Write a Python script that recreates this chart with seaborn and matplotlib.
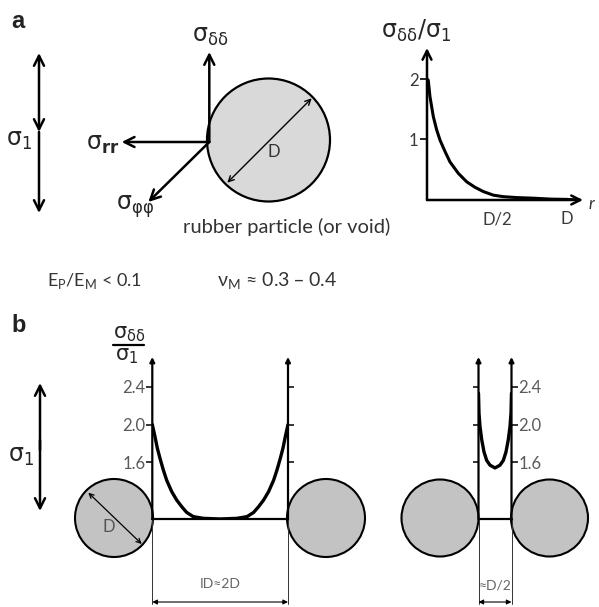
import matplotlib
matplotlib.use("Agg")
import matplotlib.pyplot as plt
import seaborn as sns
from matplotlib.patches import Circle

# ---------------- data ----------------
# panel a: sigma_dd / sigma_1 vs distance r (in units of D) from particle surface
a_r = [0.0, 0.009, 0.021, 0.045, 0.069, 0.093, 0.129, 0.164, 0.224, 0.284,
       0.343, 0.402, 0.474, 0.545, 0.641, 0.759, 0.879, 0.998, 1.09]
a_val = [2.0, 1.98, 1.71, 1.38, 1.16, 0.99, 0.80, 0.63, 0.44, 0.30,
         0.21, 0.14, 0.08, 0.055, 0.04, 0.03, 0.015, 0.01, 0.0]
a_yticks = [1, 2]
a_yticklabels = ["1", "2"]
a_xticks = [0.5, 1.0]
a_xticklabels = ["D/2", "D"]

# panel b: stress across ligament (position as fraction of ligament)
b_wide_pos = [0.0, 0.02, 0.037, 0.057, 0.081, 0.106, 0.143, 0.18, 0.217, 0.253,
              0.302, 0.376, 0.5, 0.624, 0.698, 0.747, 0.783, 0.82, 0.857,
              0.894, 0.919, 0.943, 0.963, 0.98, 1.0]
b_wide_val = [2.0, 1.87, 1.75, 1.64, 1.52, 1.41, 1.29, 1.20, 1.13, 1.07,
              1.025, 1.007, 1.0, 1.007, 1.025, 1.07, 1.13, 1.20, 1.29,
              1.41, 1.52, 1.64, 1.75, 1.87, 2.0]
b_narrow_pos = [0.0, 0.015, 0.045, 0.097, 0.167, 0.248, 0.348, 0.5,
                0.652, 0.752, 0.833, 0.903, 0.955, 0.985, 1.0]
b_narrow_val = [2.33, 2.12, 1.98, 1.84, 1.71, 1.62, 1.57, 1.54,
                1.57, 1.62, 1.71, 1.84, 1.98, 2.12, 2.33]
b_yticks = [1.6, 2.0, 2.4]
b_yticklabels = ["1.6", "2.0", "2.4"]

# ---------------- layout (pixels) ----------------
W, H = 599, 607
A_X0, A_Y0 = 427, 200          # origin of graph a
A_XMAX, A_YTOP = 583, 48
A_PX_R, A_PX_V = 140, 60.5
B_BASE, B_TOP, B_PX_V = 519, 357, 94.5
B_WIDE = (152.3, 288.0)
B_NARROW = (478.5, 511.5)

sns.set_theme(style="white")
plt.rcParams["font.family"] = ["Lato", "DejaVu Sans"]
plt.rcParams["mathtext.fontset"] = "dejavusans"

fig = plt.figure(figsize=(W / 100, H / 100), dpi=100)
ax = fig.add_axes([0, 0, 1, 1])
ax.set_xlim(0, W)
ax.set_ylim(H, 0)
ax.axis("off")


def px_axes(x0, y0, x1, y1):
    a = fig.add_axes([x0 / W, 1 - y1 / H, (x1 - x0) / W, (y1 - y0) / H])
    a.set_facecolor("none")
    for s in a.spines.values():
        s.set_visible(False)
    return a


def arrow(axx, p0, p1, style="->", lw=1.8, ms=18, color="black"):
    axx.annotate("", xy=p1, xytext=p0, xycoords="data", textcoords="data",
                 annotation_clip=False,
                 arrowprops=dict(arrowstyle=style, lw=lw, color=color,
                                 mutation_scale=ms, shrinkA=0, shrinkB=0))


SIG = r"$\mathrm{\sigma}"
DD = r"_{\mathrm{\delta\delta}}"
TXT = "#333333"
SFS = 17

# ---------------- panel a ----------------
ax.text(18, 22, "a", fontsize=17, fontweight="bold", family="Liberation Sans",
        ha="center", va="center", color="#222222")
arrow(ax, (39, 132), (39, 53), "<->")
arrow(ax, (39, 132), (39, 213), "->")
ax.text(19, 141, SIG + r"_\mathrm{1}$", fontsize=SFS, ha="center", va="center")

ax.add_patch(Circle((268.5, 140), 61.5, fc="#d9d9d9", ec="black", lw=1.6, zorder=1))
arrow(ax, (209.3, 142), (209.3, 52))
arrow(ax, (209.3, 142), (121.7, 142))
arrow(ax, (209.3, 142), (148.3, 202))
arrow(ax, (227.3, 182.7), (311.7, 98.3), "<->", lw=1.0, ms=10)
ax.text(274, 152, "D", fontsize=12, ha="center", va="center", color=TXT)
ax.text(210, 37, SIG + DD + "$", fontsize=SFS, ha="center", va="center")
ax.text(103, 145, SIG + r"_\mathbf{rr}$", fontsize=SFS, ha="center", va="center")
ax.text(135, 207, SIG + r"_{\mathrm{\varphi\varphi}}$", fontsize=SFS,
        ha="center", va="center")
ax.text(287, 227, "rubber particle (or void)", fontsize=14.5, ha="center",
        va="center", color=TXT)

ax.text(95, 281, r"E$_\mathregular{P}$/E$_\mathregular{M}$ < 0.1", fontsize=13,
        ha="center", va="center", color=TXT)
ax.text(277, 281, r"ν$_\mathregular{M}$ ≈ 0.3 – 0.4", fontsize=14,
        ha="center", va="center", color=TXT)

# graph a
ga = px_axes(A_X0, A_YTOP, A_XMAX, A_Y0)
ga.set_xlim(0, (A_XMAX - A_X0) / A_PX_R)
ga.set_ylim(0, (A_Y0 - A_YTOP) / A_PX_V)
xmax_a, ymax_a = ga.get_xlim()[1], ga.get_ylim()[1]
arrow(ga, (0, 0), (0, ymax_a), lw=1.8, ms=16)
arrow(ga, (0, 0), (xmax_a, 0), lw=1.8, ms=16)
sns.lineplot(x=a_r, y=a_val, ax=ga, color="black", lw=2.2, sort=False)
ga.set_yticks(a_yticks)
ga.set_yticklabels(a_yticklabels)
ga.set_xticks(a_xticks)
ga.set_xticklabels(a_xticklabels)
ga.tick_params(axis="y", left=True, direction="out", length=5, width=1.2,
               color="black", labelsize=12, labelcolor="#3a3a3a", pad=1)
ga.tick_params(axis="x", bottom=True, length=0, labelsize=12,
               labelcolor="#3a3a3a", pad=8)
ga.set_xlabel("")
ga.set_ylabel("")
ax.text(416, 31, SIG + DD + r"/\mathrm{\sigma}_\mathrm{1}$", fontsize=SFS,
        ha="center", va="center")
ax.text(589, 204, "r", fontsize=12, style="italic", ha="left", va="center",
        color=TXT)

# ---------------- panel b ----------------
ax.text(18.5, 325, "b", fontsize=17, fontweight="bold", family="Liberation Sans",
        ha="center", va="center", color="#222222")
arrow(ax, (40, 450), (40, 383), "->")
arrow(ax, (40, 440), (40, 511), "->")
ax.text(21, 457, SIG + r"_\mathrm{1}$", fontsize=SFS, ha="center", va="center")

# fraction label
ax.text(129, 334, SIG + DD + "$", fontsize=15, ha="center", va="center")
ax.plot([113, 144], [345, 345], color="black", lw=1.6)
ax.text(127, 356, SIG + r"_\mathrm{1}$", fontsize=15, ha="center", va="center")

circles_b = [(114, 39), (326, 39), (440, 38.5), (549.5, 38.5)]
for cx, r in circles_b:
    ax.add_patch(Circle((cx, B_BASE - 1), r, fc="#c3c3c3", ec="black", lw=1.5,
                        zorder=1))
arrow(ax, (88.3, 492.7), (141.7, 544), "<->", lw=0.9, ms=8)
ax.text(109, 527, "D", fontsize=12, ha="center", va="center", color="#555555")


def ligament_graph(xl, xr, pos, val, label_side):
    g = px_axes(xl, B_TOP, xr, B_BASE)
    g.set_xlim(0, 1)
    g.set_ylim(1.0, 1.0 + (B_BASE - B_TOP) / B_PX_V)
    top = g.get_ylim()[1]
    arrow(g, (0, 1.0), (0, top), "-|>", lw=1.6, ms=7)
    arrow(g, (1, 1.0), (1, top), "-|>", lw=1.6, ms=7)
    g.plot([0, 1], [1.0, 1.0], color="black", lw=1.6, clip_on=False)
    sns.lineplot(x=pos, y=val, ax=g, color="black", lw=2.4, sort=False)
    g.set_xticks([])
    g.set_yticks(b_yticks)
    g.set_yticklabels(b_yticklabels)
    g.tick_params(axis="y", left=True, right=True,
                  labelleft=(label_side == "left"),
                  labelright=(label_side == "right"),
                  direction="out", length=4, width=1.1, color="black",
                  labelsize=12, labelcolor="#5a5a5a", pad=1)
    g.set_xlabel("")
    g.set_ylabel("")
    return g


ligament_graph(B_WIDE[0], B_WIDE[1], b_wide_pos, b_wide_val, "left")
ligament_graph(B_NARROW[0], B_NARROW[1], b_narrow_pos, b_narrow_val, "right")

# dimension lines
for xl, xr, lab, ly in [(B_WIDE[0], B_WIDE[1], "ID≈2D", 584),
                        (B_NARROW[0], B_NARROW[1], "≈D/2", 585)]:
    for xx in (xl, xr):
        ax.plot([xx, xx], [B_BASE, 604], color="#333333", lw=0.7)
    arrow(ax, (xl, 602), (xr, 602), "<|-|>", lw=0.8, ms=7)
    ax.text((xl + xr) / 2, ly, lab, fontsize=10, ha="center", va="center",
            color="#666666")

fig.savefig("out.png", dpi=100)
